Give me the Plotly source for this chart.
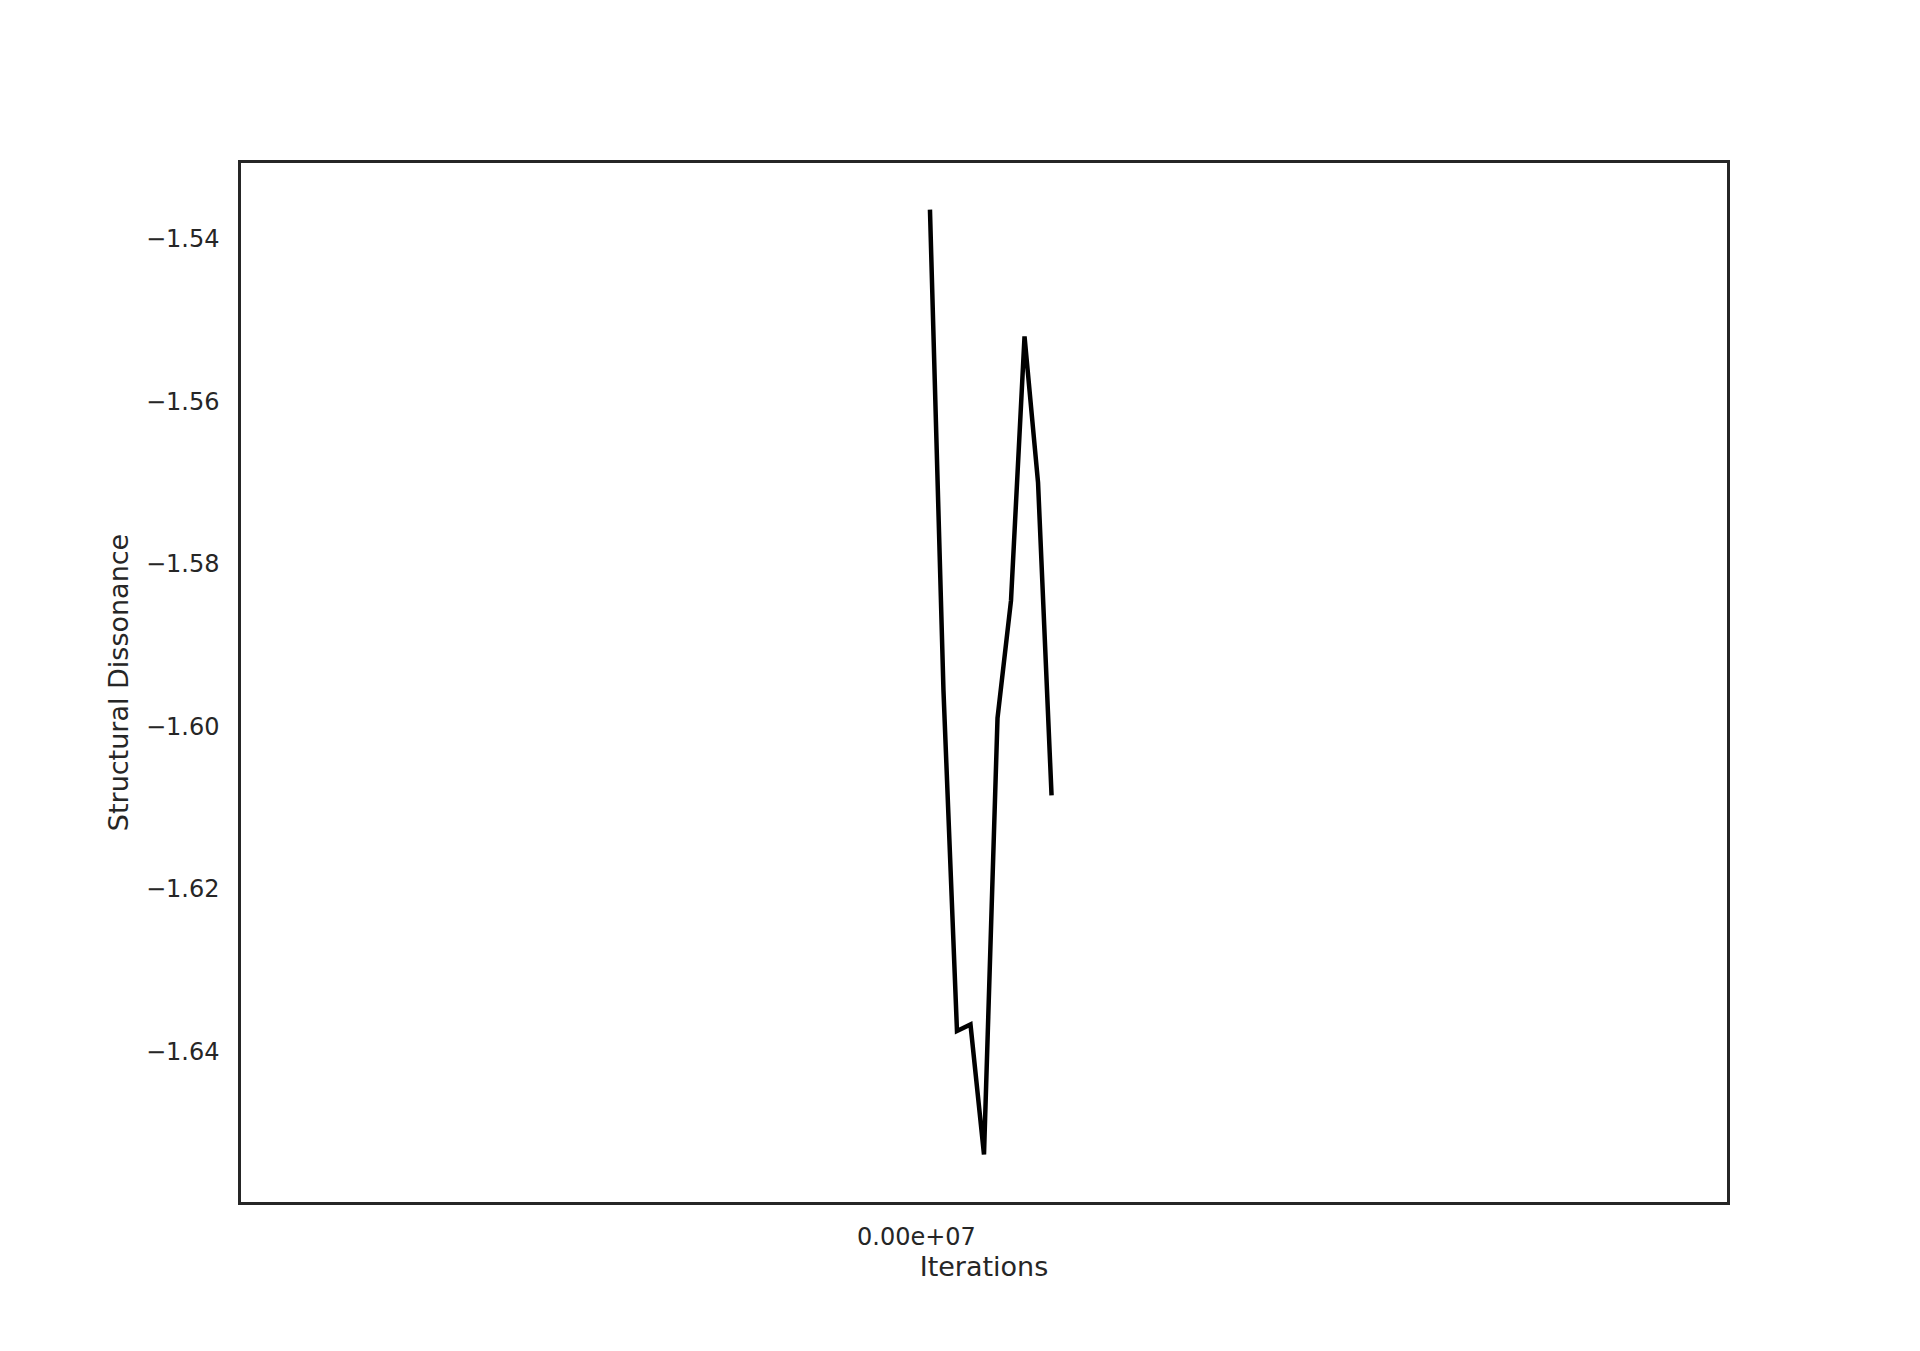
import plotly.graph_objects as go

# Data
iterations = [1, 2, 3, 4, 5, 6, 7, 8, 9, 10]
structural_dissonance = [-1.5364, -1.5956, -1.6375, -1.6367, -1.6527,
                         -1.5990, -1.5845, -1.5520, -1.5700, -1.6085]

x_tickvals = [0]
x_ticktext = ["0.00e+07"]
y_tickvals = [-1.54, -1.56, -1.58, -1.60, -1.62, -1.64]
y_ticktext = ["\u22121.54", "\u22121.56", "\u22121.58", "\u22121.60", "\u22121.62", "\u22121.64"]

fig = go.Figure()
fig.add_trace(go.Scatter(
    x=iterations, y=structural_dissonance, mode="lines",
    line=dict(color="black", width=4.5),
    showlegend=False, hoverinfo="skip",
))

axis_color = "#262626"
font_family = "DejaVu Sans"

fig.update_layout(
    width=1920, height=1351,
    margin=dict(l=233, r=201, t=155, b=157, pad=0),
    paper_bgcolor="white", plot_bgcolor="white",
    font=dict(family=font_family, color=axis_color, size=24),
    xaxis=dict(
        range=[-50, 60],
        tickvals=x_tickvals, ticktext=x_ticktext,
        showgrid=False, zeroline=False,
        showline=True, mirror=True, linecolor=axis_color, linewidth=2.5,
        ticks="", ticklabelstandoff=11,
        tickfont=dict(size=24, color=axis_color, family=font_family),
        title=dict(text="Iterations", standoff=8,
                   font=dict(size=27, color=axis_color, family=font_family)),
    ),
    yaxis=dict(
        range=[-1.65855, -1.53066],
        tickvals=y_tickvals, ticktext=y_ticktext,
        showgrid=False, zeroline=False,
        showline=True, mirror=True, linecolor=axis_color, linewidth=2.5,
        ticks="", ticklabelstandoff=14,
        tickfont=dict(size=24, color=axis_color, family=font_family),
        title=dict(text="Structural Dissonance", standoff=10,
                   font=dict(size=27, color=axis_color, family=font_family)),
    ),
)

fig.write_html("out.html")
